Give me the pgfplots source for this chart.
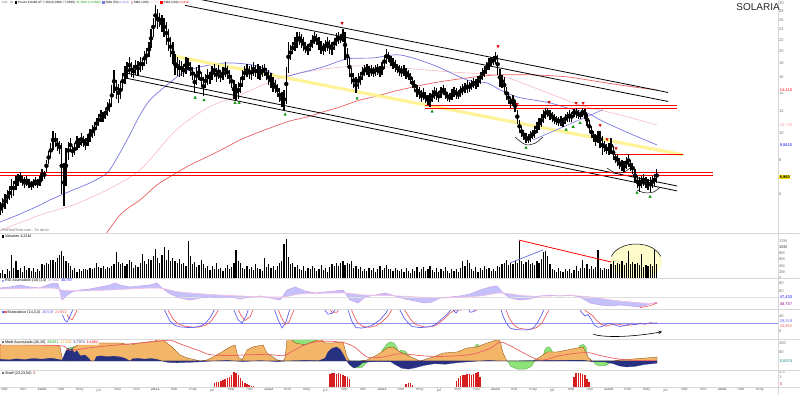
\documentclass[border=0pt]{standalone}
\usepackage{fontspec}
\setmainfont{Liberation Sans}
\usepackage{pgfplots}
\pgfplotsset{compat=1.18}
\usepackage{pgfplotstable}
\usepgfplotslibrary{fillbetween}
\definecolor{smablue}{RGB}{120,120,225}
\definecolor{smapink}{RGB}{245,185,195}
\definecolor{smared}{RGB}{235,95,95}
\definecolor{chanyel}{RGB}{255,242,140}
\definecolor{ora}{RGB}{243,182,105}
\definecolor{grn}{RGB}{140,228,120}
\definecolor{navy}{RGB}{40,48,130}
\definecolor{rsiv}{RGB}{205,165,240}
\definecolor{rsisig}{RGB}{245,190,225}
\definecolor{rsifill}{RGB}{165,160,248}
\definecolor{stblue}{RGB}{95,95,240}
\definecolor{stred}{RGB}{240,95,95}
\definecolor{histred}{RGB}{215,30,30}
\definecolor{lbl}{RGB}{110,110,110}
\definecolor{sepc}{RGB}{215,215,215}
\newcommand\tkf{\fontsize{4}{4.5}\selectfont}
\newcommand\lgdf{\fontsize{3.7}{4.2}\selectfont}
\newcommand\topf{\fontsize{3.1}{3.6}\selectfont}
\newcommand\sqq[1]{\textcolor{#1}{\rule{2.4pt}{2.4pt}}}

\pgfplotstableread{
w h l v
-19 5.6 5.0 1.5
-18 5.8 5.1 2.6
-17 6.0 5.3 1.4
-16 6.2 5.5 3.0
-15 6.4 5.7 2.2
-14 6.8 5.8 7.5
-13 6.7 5.9 3.2
-12 7.0 6.2 5.5
-11 7.1 6.4 2.6
-10 7.2 6.6 3.4
-9 7.0 6.4 2.0
-8 6.9 6.3 4.0
-7 7.0 6.4 2.5
-6 6.8 6.3 3.1
-5 6.7 6.2 2.2
-4 6.8 6.3 3.3
-3 6.9 6.4 2.0
-2 6.8 6.3 3.0
-1 7.0 6.4 2.4
0 7.4 6.7 4.5
1 7.3 6.8 4.3
2 8.0 7.2 5.0
3 8.6 7.7 4.6
4 9.2 8.1 5.8
5 10.2 8.7 6.0
6 10.0 8.9 5.2
7 9.6 8.6 6.6
8 9.4 8.4 7.4
9 9.2 6.0 8.9
10 7.8 5.4 7.0
11 8.8 6.4 5.6
12 9.3 8.0 4.8
13 9.6 8.5 3.8
14 9.0 8.2 2.6
15 9.2 8.3 3.4
16 9.8 8.7 1.8
17 9.6 8.8 3.0
18 10.0 9.0 2.2
19 9.8 8.9 2.8
20 9.6 8.7 3.0
21 9.9 9.0 2.7
22 10.4 9.3 3.2
23 10.7 9.6 2.9
24 11.0 9.8 3.1
25 11.4 10.3 5.0
26 11.8 10.6 3.5
27 12.2 11.0 3.2
28 12.0 11.0 3.8
29 12.4 11.3 2.9
30 13.0 11.6 3.6
31 13.3 12.0 3.4
32 15.0 12.5 4.0
33 17.0 14.0 4.4
34 15.7 13.4 8.3
35 15.2 12.9 5.2
36 15.5 13.3 4.4
37 16.6 14.4 5.0
38 17.6 15.2 3.8
39 18.2 15.8 4.6
40 19.0 16.5 6.0
41 18.2 16.0 5.2
42 17.8 15.9 3.4
43 18.6 16.4 4.2
44 18.4 16.2 3.6
45 19.0 16.8 4.8
46 18.8 17.0 7.8
47 20.0 17.6 5.4
48 20.5 18.0 4.6
49 21.5 19.0 6.2
50 24.0 20.5 5.8
51 26.5 22.5 7.2
52 29.5 24.5 9.5
53 28.5 24.0 6.6
54 27.5 24.5 5.0
55 27.0 23.5 7.4
56 26.5 22.5 10.0
57 25.5 21.0 6.0
58 24.0 20.0 9.2
59 22.5 19.0 5.4
60 21.5 18.0 6.4
61 19.5 16.3 5.6
62 19.0 16.2 4.8
63 18.6 16.0 6.2
64 18.4 16.2 4.4
65 18.0 16.0 5.0
66 19.0 16.5 4.0
67 18.8 17.0 12.0
68 18.2 16.2 7.2
69 17.5 15.6 4.6
70 16.8 14.0 5.2
71 17.5 15.0 3.6
72 17.8 15.6 4.2
73 16.8 14.8 6.0
74 16.0 13.7 4.4
75 16.5 14.6 3.2
76 17.2 15.0 4.0
77 16.8 15.2 2.6
78 17.6 15.6 3.8
79 18.0 16.0 3.0
80 17.4 15.4 4.8
81 17.8 15.8 2.8
82 17.0 15.4 3.4
83 17.5 15.6 2.4
84 18.2 16.0 3.2
85 17.6 15.8 4.2
86 17.0 15.2 2.8
87 16.4 14.6 3.6
88 15.6 13.4 5.0
89 15.2 13.2 9.0
90 15.4 13.4 5.4
91 16.0 14.0 4.8
92 17.0 14.8 3.2
93 17.6 15.6 2.8
94 18.0 16.0 4.0
95 17.6 15.8 3.0
96 17.8 15.6 3.6
97 18.2 16.2 2.6
98 17.8 16.0 4.4
99 18.0 15.8 3.4
100 17.6 15.6 3.0
101 17.8 16.0 2.4
102 18.0 16.2 6.6
103 17.4 15.6 3.6
104 17.0 15.0 4.6
105 16.6 14.6 3.2
106 16.0 14.2 4.0
107 15.6 14.0 2.6
108 15.2 13.6 3.8
109 14.6 13.0 4.8
110 14.2 12.5 5.4
111 14.4 12.2 11.0
112 17.5 12.8 12.7
113 21.5 16.6 6.7
114 21.0 18.5 4.6
115 21.5 19.5 5.0
116 22.5 20.0 3.6
117 23.5 20.5 4.2
118 23.5 21.0 3.0
119 23.0 20.6 2.6
120 22.5 20.0 3.8
121 21.5 19.6 2.4
122 21.2 19.3 3.4
123 22.0 20.0 2.8
124 22.8 20.5 4.0
125 23.5 21.2 3.2
126 23.0 21.0 2.2
127 22.5 20.2 3.0
128 21.8 19.5 4.2
129 21.4 19.3 2.6
130 22.0 19.8 3.2
131 22.6 20.0 2.0
132 22.0 19.5 3.6
133 21.6 19.4 4.4
134 22.4 20.2 3.8
135 23.2 20.8 5.0
136 23.5 21.2 4.0
137 23.0 21.4 4.8
138 24.0 21.6 5.4
139 23.5 18.6 4.2
140 20.5 17.8 5.0
141 19.0 16.0 4.6
142 17.4 15.2 5.6
143 16.6 14.6 3.4
144 16.0 14.0 4.0
145 16.6 14.5 2.8
146 16.8 15.0 3.6
147 17.5 15.6 2.4
148 17.8 16.2 3.0
149 18.0 16.4 2.2
150 17.6 16.0 3.4
151 17.8 16.2 2.6
152 17.5 16.0 3.2
153 17.8 16.2 2.0
154 18.0 16.4 2.8
155 17.6 16.0 3.8
156 18.2 16.4 2.6
157 19.4 17.2 3.2
158 20.3 18.0 4.2
159 19.8 18.2 2.8
160 19.2 17.6 3.0
161 18.8 17.2 2.4
162 18.5 16.8 3.4
163 18.0 16.6 2.6
164 17.8 16.2 2.2
165 17.6 16.0 2.8
166 17.8 16.2 1.8
167 17.4 15.8 3.2
168 17.0 15.6 2.4
169 16.6 15.2 1.6
170 16.0 14.6 3.0
171 15.6 14.2 2.4
172 15.0 13.6 3.6
173 14.8 13.4 2.0
174 14.4 13.0 2.8
175 14.6 13.2 3.6
176 14.2 12.9 2.2
177 13.8 12.7 3.0
178 14.0 12.5 4.0
179 14.4 13.0 2.6
180 14.8 13.4 2.0
181 14.6 13.2 3.2
182 14.3 13.0 1.8
183 14.8 13.5 2.8
184 15.0 13.8 2.2
185 14.6 13.4 3.6
186 14.2 13.1 2.4
187 14.0 13.0 1.6
188 14.5 13.2 3.0
189 14.8 13.6 2.2
190 14.6 13.4 2.8
191 14.4 13.3 2.0
192 14.9 13.6 3.4
193 15.1 13.8 5.4
194 15.3 14.0 4.0
195 15.6 14.0 5.8
196 15.4 14.2 5.0
197 15.6 14.4 3.0
198 15.9 14.6 2.4
199 15.8 14.5 3.6
200 16.2 14.8 2.0
201 16.8 15.2 3.2
202 17.4 15.6 2.6
203 17.6 16.0 3.8
204 18.2 16.5 2.8
205 18.8 17.0 3.4
206 19.0 17.6 2.4
207 19.2 17.8 3.0
208 19.8 18.0 2.2
209 19.4 16.4 4.0
210 17.2 14.8 3.6
211 16.4 14.6 4.4
212 16.0 14.0 5.0
213 14.8 13.2 5.8
214 14.2 12.8 4.2
215 13.6 12.4 4.8
216 13.8 12.6 4.4
217 13.2 12.0 5.4
218 12.2 10.8 5.0
219 11.2 10.0 12.0
220 10.6 9.7 5.6
221 10.3 9.45 4.6
222 10.0 9.2 5.2
223 9.9 9.2 6.0
224 10.2 9.3 4.4
225 10.3 9.5 5.0
226 10.6 9.6 4.2
227 11.0 10.0 5.4
228 11.4 10.3 4.8
229 11.8 10.5 6.2
230 12.2 10.9 8.3
231 12.4 11.3 8.9
232 12.4 11.5 7.0
233 12.2 11.2 4.4
234 12.0 11.0 3.0
235 11.8 10.8 2.6
236 11.6 10.7 2.0
237 11.5 10.6 3.2
238 11.6 10.6 2.4
239 11.4 10.5 1.8
240 11.8 10.8 2.8
241 12.0 11.0 2.2
242 12.2 11.0 3.0
243 12.0 11.0 1.6
244 12.3 11.5 2.6
245 12.4 11.4 3.8
246 12.2 11.3 2.4
247 12.0 11.3 3.2
248 12.4 11.5 5.8
249 12.3 11.3 3.4
250 11.8 10.6 4.6
251 11.2 10.0 3.0
252 10.6 9.6 4.0
253 10.2 9.3 2.8
254 9.9 9.0 3.6
255 10.2 9.2 9.0
256 10.2 8.8 3.2
257 9.8 8.3 2.6
258 9.4 8.5 3.4
259 9.1 8.4 2.8
260 9.2 8.3 3.0
261 9.6 8.4 4.6
262 9.0 8.0 5.4
263 8.4 7.8 4.2
264 8.4 7.6 5.0
265 8.1 7.4 4.4
266 8.0 7.3 5.6
267 7.9 7.2 4.2
268 8.2 7.4 4.8
269 8.4 7.5 8.9
270 8.0 7.3 4.6
271 7.8 7.1 5.2
272 7.4 6.6 4.4
273 7.0 6.3 5.0
274 6.9 6.1 4.2
275 7.0 6.3 7.8
276 7.1 6.4 3.6
277 6.9 6.3 4.2
278 6.8 6.2 3.8
279 6.9 6.1 4.4
280 7.0 6.3 4.0
281 7.1 6.4 9.0
282 7.4 6.6 4.5
}\weekly

\pgfplotstableread{
w s
79 0.4
80 0.5
81 0.5
82 0.6
83 0.7
84 0.8
85 0.9
86 1.0
87 1.2
88 1.5
89 1.4
90 1.2
91 0.9
92 0.6
93 0.4
94 0.3
95 0.2
96 0.15
97 0.1
132 1.3
133 1.4
134 1.4
135 1.3
136 1.4
137 1.3
138 1.2
139 1.1
140 1.0
141 0.8
167 0.3
168 0.4
169 0.4
170 0.2
190 0.6
191 0.9
192 1.1
193 1.2
194 1.2
195 1.3
196 1.3
197 1.2
198 1.3
199 1.4
200 1.5
201 1.0
244 1.0
245 1.4
246 1.4
247 1.4
248 1.3
249 1.2
250 0.8
251 0.5
}\histo

\pgfplotsset{
  panel/.style={scale only axis, width=778pt, xmin=-19.3, xmax=337.6,
    anchor=north west, axis line style={draw=none}, tick style={draw=none},
    xtick=\empty, yticklabel pos=right,
    yticklabel style={font=\tkf, text=lbl, inner sep=1pt},
    /pgf/number format/assume math mode=true},
}

\begin{document}
\begin{tikzpicture}[x=1pt,y=1pt]
%================ PRICE =================
\begin{axis}[panel, at={(0pt,0pt)}, height=233pt, ymode=log, ymin=4.312, ymax=30.75,
  ytick={6,8,10,12,14,16,18,20,22,24,26,28,30},
  yticklabels={6,8,10,12,14,16,18,20,22,24,26,28,30}]
\addplot[smared, line width=0.7pt, smooth] coordinates {(24.31,3.74) (35.78,5.02) (44.95,5.70) (52.75,6.47) (60.09,7.04) (67.89,7.65) (75.69,8.19) (83.94,8.84) (90.83,9.45) (98.62,10.03) (105.96,10.55) (113.76,11.09) (121.56,11.47) (128.90,11.97) (136.70,12.48) (144.50,13.13) (151.83,13.58) (164.22,14.41) (179.36,15.28) (194.95,15.94) (208.72,16.35) (225.23,16.35) (240.83,16.08) (255.96,15.41) (271.10,14.78) (282.11,14.41)};
\addplot[smapink, line width=0.6pt, smooth] coordinates {(-19.27,4.4) (-0.92,5.02) (14.22,5.46) (29.82,6.20) (44.95,7.34) (60.09,10.03) (69.27,11.47) (78.44,12.69) (90.83,13.8) (109.17,15.94) (127.52,17.1) (145.87,17.64) (164.22,17.34) (187.16,16.77) (210.09,16.21) (228.44,14.41) (246.79,12.69) (265.14,11.67) (282.11,10.72)};
\addplot[smablue, line width=0.7pt, smooth] coordinates {(-19.27,4.73) (-10.09,5.06) (-0.92,5.46) (3.67,5.70) (14.22,6.20) (22.02,6.58) (29.82,7.15) (34.40,8.12) (38.99,9.45) (44.95,11.67) (49.54,13.24) (57.34,15.03) (64.68,16.63) (72.48,17.49) (84.86,18.09) (98.62,17.64) (109.17,16.08) (118.35,16.63) (128.90,17.49) (139.91,18.71) (151.83,18.87) (164.22,19.35) (179.36,17.79) (194.95,15.67) (204.13,15.28) (210.09,14.41) (217.89,13.58) (225.23,13.24) (233.03,12.91) (240.83,12.38) (250.0,11.87) (255.96,11.19) (263.76,10.46) (271.10,9.86) (282.11,9.06)};
\addplot[chanyel, line width=3.2pt, opacity=0.9] coordinates {(60.09,19.19) (294.04,8.33)};
\addplot[black, line width=0.8pt] coordinates {(65.6,31.69) (287.16,14.1)};
\addplot[black, line width=0.8pt] coordinates {(65.6,29.38) (287.16,13.07)};
\addplot[black, line width=0.8pt] coordinates {(38.07,16.63) (291.28,6.41)};
\addplot[black, line width=0.8pt] coordinates {(38.07,15.94) (291.28,6.15)};
\addplot[red, line width=0.8pt] coordinates {(-19.3,7.17) (307.8,7.17)};
\addplot[red, line width=0.8pt] coordinates {(-19.3,6.99) (307.8,6.99)};
\addplot[red, line width=0.8pt] coordinates {(175.69,12.66) (291.28,12.66)};
\addplot[red, line width=0.8pt] coordinates {(175.69,12.35) (291.28,12.35)};
\addplot[red, line width=0.8pt] coordinates {(261.93,8.38) (294.04,8.38)};
\addplot[smablue, line width=0.6pt] coordinates {(225.23,9.45) (257.34,12.2)};
\addplot[only marks, mark=none, error bars/.cd, y dir=both, y explicit, error mark=none,
  error bar style={line width=1.3pt, black}]
  table[x=w, y expr={(\thisrow{h}+\thisrow{l})/2},
        y error plus expr={(\thisrow{h}-\thisrow{l})/2},
        y error minus expr={(\thisrow{h}-\thisrow{l})/2}] {\weekly};
\addplot[black, line width=0.5pt, smooth] coordinates {(216.97,9.69) (219.7,9.29) (222.48,9.06) (226.15,9.19) (229.82,9.69)};
\addplot[black, line width=0.5pt, smooth] coordinates {(259.17,7.46) (261.47,7.25) (263.76,7.15) (266.97,7.21) (269.72,7.46)};
\addplot[black, line width=0.5pt, smooth] coordinates {(272.94,6.20) (275.69,6.07) (277.98,6.05) (280.73,6.10) (283.49,6.35)};
\addplot[only marks, mark=triangle*, mark size=1.4pt, mark options={rotate=180, fill=red, draw=red!80!black}] coordinates {(137.61,25.3) (209.17,20.8) (217.9,12.8) (232.6,13.0) (245.0,12.9) (248.2,12.9) (256.0,10.7) (259.2,9.5) (263.3,8.8)};
\addplot[only marks, mark=triangle*, mark size=1.4pt, mark options={fill=green!70!black, draw=green!50!black}] coordinates {(70.2,13.5) (74.3,13.2) (88.5,12.9) (90.4,12.9) (111.5,11.7) (144.5,13.4) (178.9,12.0) (222.0,8.85) (240.4,10.3) (243.6,10.55) (246.8,10.9) (272.9,6.05) (278.9,5.85)};
\end{axis}

%================ VOLUME =================
\begin{axis}[panel, at={(0pt,-233pt)}, height=45pt, ymin=0, ymax=14.6,
  ytick={0,2,4,6,8,10,12}, yticklabels={0,2M,4M,6M,8M,\textbf{10M},12M}]
\fill[yellow!22, opacity=0.9] (axis cs:272.48,5.2) ellipse [x radius=26pt, y radius=18pt];
\addplot[ycomb, black, line width=1.2pt] table[x=w, y=v] {\weekly};
\addplot[red, line width=0.8pt] coordinates {(218.81,12.3) (261.01,5.2)};
\addplot[smablue, line width=0.8pt] coordinates {(214.68,4.9) (229.82,9.1)};
\draw[black, line width=0.5pt] (axis cs:272.48,5.2) ++(162:26pt and 18pt) arc[start angle=162, end angle=18, x radius=26pt, y radius=18pt];
\end{axis}

%================ RSI =================
\begin{axis}[panel, at={(0pt,-278pt)}, height=31pt, ymin=14, ymax=92,
  ytick={60,80}, yticklabels={60,80}]
\addplot[gray!25, line width=0.4pt] coordinates {(-19.3,44) (337.6,44)};
\addplot[name path=rsi, rsiv, line width=0.6pt] coordinates {(-19.27,66.8) (-14.68,69.4) (-10.09,74.4) (-5.50,69.4) (-0.92,66.8) (1.38,71.9) (3.67,76.9) (5.96,79.4) (7.34,76.9) (9.17,36.6) (11.01,46.7) (13.76,56.8) (17.43,61.8) (22.02,64.3) (26.61,69.4) (31.19,74.4) (33.49,79.4) (35.78,74.4) (40.37,69.4) (44.95,71.9) (49.54,74.4) (52.75,79.4) (55.05,66.8) (58.72,51.7) (63.30,41.7) (67.89,36.6) (72.48,41.7) (77.06,44.2) (81.65,41.7) (86.24,44.2) (90.83,39.2) (95.41,44.2) (100.00,46.7) (104.59,41.7) (109.17,36.6) (112.39,61.8) (116.06,69.4) (120.64,59.3) (125.23,54.3) (129.82,56.8) (134.40,59.3) (138.07,61.8) (141.28,36.6) (144.95,29.1) (148.17,44.2) (152.75,49.2) (157.34,54.3) (161.93,46.7) (166.51,39.2) (171.10,34.1) (175.69,29.1) (178.90,31.6) (182.57,41.7) (187.16,44.2) (191.74,46.7) (196.33,51.7) (200.92,61.8) (205.50,69.4) (208.71,71.9) (211.47,54.3) (214.68,41.7) (219.27,36.6) (223.85,39.2) (228.44,46.7) (233.03,49.2) (237.61,46.7) (242.20,49.2) (246.79,44.2) (251.38,29.1) (255.96,24.1) (260.55,21.6) (265.14,24.1) (269.72,21.6) (274.31,19.0) (278.90,26.6) (282.11,31.6)};
\addplot[name path=sig, rsisig, line width=0.6pt, smooth] coordinates {(-19.27,64.3) (3.67,66.8) (9.17,61.8) (17.43,59.3) (31.19,61.8) (52.75,66.8) (63.30,56.8) (81.65,49.2) (109.17,44.2) (118.35,51.7) (138.07,54.3) (148.17,49.2) (164.22,46.7) (182.57,41.7) (200.92,46.7) (210.09,54.3) (223.85,46.7) (246.79,46.7) (265.14,34.1) (282.11,26.6)};
\addplot[rsifill, fill opacity=0.65] fill between[of=rsi and sig];
\addplot[stred, line width=0.6pt] coordinates {(274.31,17.5) (278.9,22) (282.11,29)};
\end{axis}

%================ STOCHASTIC =================
\begin{axis}[panel, at={(0pt,-309pt)}, height=30pt, ymin=-21.3, ymax=58.7,
  ytick={0,40}, yticklabels={0,40}]
\addplot[stblue!70, line width=0.6pt] coordinates {(-19.3,20) (337.6,20)};
\addplot[stred, line width=0.7pt] coordinates {(-19.27,85) (5.96,90) (8.8,75) (10.6,52) (12.4,34) (13.8,30) (15.2,45) (17.5,75) (19.7,90) (54.13,90) (56.5,72) (58.3,50) (60.1,32) (62.4,19) (65.1,13) (69.3,10) (72.5,11) (75.2,16) (77.5,26) (79.8,45) (82.1,70) (84.4,88) (87.6,88) (89.4,66) (91.2,42) (93.1,28) (95.4,38) (97.2,62) (99.1,85) (105.9,88) (107.8,66) (109.6,38) (111.5,18) (113.3,24) (115.1,50) (117.4,80) (119.2,90) (128.9,88) (131.2,65) (133.0,50) (135.3,50) (137.1,68) (139.4,82) (140.8,72) (142.7,46) (144.5,24) (147.2,12) (150.4,10) (153.2,14) (155.9,24) (158.7,40) (161.0,62) (162.8,78) (165.1,66) (167.4,46) (169.3,29) (171.6,17) (175.2,11) (178.9,11) (181.6,19) (184.4,32) (187.2,48) (189.5,56) (192.2,56) (195.0,64) (197.2,58) (199.1,55) (201.4,64) (203.2,82) (210.6,85) (212.4,62) (214.2,36) (216.1,18) (218.4,8) (221.6,5) (224.8,5) (227.1,10) (229.4,22) (231.2,42) (233.5,66) (235.4,85) (245.4,88) (247.2,72) (249.1,55) (251.4,46) (252.7,40) (254.1,30) (256.4,18) (258.7,13) (261.0,17) (263.8,19) (266.1,16) (268.4,15) (271.1,17) (273.4,19) (275.7,19) (278.0,20) (280.3,21) (282.11,21)};
\addplot[stblue, line width=0.7pt] coordinates {(-19.27,85) (-10.09,90) (3.67,92) (5.96,90) (7.34,70) (9.17,45) (10.55,28) (11.47,24) (12.84,40) (14.68,65) (16.51,90) (31.19,92) (54.13,90) (55.50,65) (57.34,42) (58.72,26) (61.01,15) (63.30,11) (67.89,9) (70.18,10) (72.48,13) (74.77,20) (77.06,35) (79.36,60) (81.65,85) (87.16,85) (88.07,55) (89.91,30) (91.74,21) (93.58,40) (95.41,70) (97.25,90) (105.50,90) (106.42,60) (108.26,30) (110.09,8) (111.93,25) (113.76,60) (115.60,90) (128.44,90) (129.82,55) (131.19,45) (133.03,47) (134.86,60) (136.70,85) (138.99,85) (140.37,55) (142.20,25) (144.04,9) (146.79,8) (149.54,11) (152.29,18) (155.05,30) (157.80,48) (159.63,70) (161.47,85) (162.84,80) (164.22,55) (166.06,35) (167.89,22) (169.72,12) (173.39,9) (177.06,11) (179.82,15) (182.57,28) (185.32,42) (188.07,60) (189.91,48) (191.74,62) (194.50,70) (196.33,50) (198.17,52) (200.00,70) (201.83,90) (209.17,90) (210.09,65) (211.47,40) (212.84,22) (214.68,8) (216.97,4) (219.27,3) (221.56,3) (223.85,4) (225.69,10) (227.52,25) (229.36,45) (231.19,70) (233.03,90) (244.50,90) (245.87,65) (247.71,48) (249.08,40) (250.46,44) (251.83,32) (253.21,16) (255.05,10) (256.88,12) (258.72,18) (260.55,21) (262.84,16) (265.14,12) (267.43,15) (269.72,19) (272.02,17) (274.31,21) (276.61,18) (278.90,22) (281.19,20) (282.11,22)};
\draw[black, line width=0.6pt, -stealth] (axis cs:252.75,-8) .. controls (axis cs:257,-18) and (axis cs:270,-17) .. (axis cs:284.4,-2);
\end{axis}

%================ CUMULATIVE AREA PANEL =================
\begin{axis}[panel, at={(0pt,-339pt)}, height=31pt, ymin=-50, ymax=122,
  ytick={50,100}, yticklabels={50,100}]
\addplot[fill=grn, draw=grn!70!black, line width=0.3pt] coordinates {(9.2,0) (10.55,45) (11.47,68) (12.84,74) (14.68,80) (16,60) (16.5,0)} \closedcycle;
\addplot[fill=grn, draw=grn!70!black, line width=0.3pt] coordinates {(112.39,0) (112.39,117) (113.76,130) (127.52,130) (129,100) (129,0)} \closedcycle;
\addplot[fill=grn, draw=grn!70!black, line width=0.3pt] coordinates {(155.05,0) (156,60) (158.26,95) (159.6,106) (161.47,100) (163,70) (164,0)} \closedcycle;
\addplot[fill=grn, draw=grn!70!black, line width=0.3pt] coordinates {(164.22,0) (164.22,61) (166.5,55) (168,35) (168.5,0)} \closedcycle;
\addplot[fill=grn, draw=grn!70!black, line width=0.3pt] coordinates {(198.17,0) (198.6,85) (199.54,92) (200.5,88) (201,0)} \closedcycle;
\addplot[fill=grn, draw=grn!70!black, line width=0.3pt] coordinates {(229.4,0) (230.5,60) (231.65,78) (233,76) (234,55) (235,0)} \closedcycle;
\addplot[fill=grn, draw=grn!70!black, line width=0.3pt] coordinates {(245.4,0) (246.5,85) (248.17,92) (249.5,80) (250.46,0)} \closedcycle;
\addplot[fill=grn, draw=grn!70!black, line width=0.3pt] coordinates {(140.8,0) (142.2,-25) (144,-39) (146.8,-35) (148.5,-15) (149.5,0)} \closedcycle;
\addplot[fill=grn, draw=grn!70!black, line width=0.3pt] coordinates {(213.5,0) (215,-30) (218,-45) (222,-45) (224.5,-30) (226,0)} \closedcycle;
\addplot[fill=grn, draw=grn!70!black, line width=0.3pt] coordinates {(252.7,0) (254,-20) (256,-28) (258.7,-25) (260.5,-10) (261.5,0)} \closedcycle;
\addplot[fill=ora, draw=orange!50!black, line width=0.3pt] coordinates {(-19.27,94) (-10.09,100) (-0.92,94) (5.96,89) (8.26,78) (9.17,17) (10.09,6) (11.01,28) (12.84,50) (14.68,78) (17.43,94) (22.02,94) (26.61,100) (35.78,100) (40.37,89) (44.95,100) (51.83,111) (54.13,125) (57.34,100) (60.09,72) (63.30,33) (66.51,17) (72.48,0) (75.69,6) (78.44,22) (81.65,44) (86.24,78) (88.53,89) (89.91,22) (91.74,6) (94.04,61) (96.79,78) (101.38,89) (103.21,44) (107.80,6) (110.55,0) (111.47,17) (112.39,117) (113.76,125) (116.06,100) (120.64,89) (125.23,111) (127.52,125) (129.82,100) (133.49,100) (138.07,106) (139.91,22) (141.28,0) (145.87,0) (149.08,6) (153.67,33) (158.26,72) (161.01,78) (164.22,50) (167.43,33) (170.18,17) (173.39,0) (179.36,22) (183.95,44) (190.37,50) (194.95,72) (199.54,78) (204.13,100) (208.71,117) (210.09,111) (211.47,44) (213.30,0) (225.23,0) (228.44,22) (231.65,50) (236.24,50) (240.83,61) (245.41,72) (248.17,78) (250.46,22) (252.29,0) (261.93,0) (265.14,6) (271.10,11) (277.52,17) (282.11,22)} \closedcycle;
\addplot[fill=navy, draw=navy, line width=0.2pt] coordinates {(-19.27,10) (-15,6) (-12,12) (-8,8) (-4,14) (0,10) (4,16) (7,10) (9.17,5) (10.1,30) (11.0,55) (12.0,72) (12.8,60) (13.8,70) (14.7,45) (16.0,58) (17.4,30) (19.7,33) (21,20) (22.5,0) (24,0) (25,25) (27,28) (30,24) (33,27) (36,22) (38,15) (40.4,0) (41.5,12) (44,15) (47,10) (50,14) (53,8) (55,0) (58,-8) (62,-10) (66,-8) (72,-5) (78,0) (85,3) (92,-3) (100,2) (108,-3) (112,0) (120,3) (127,2) (129.8,15) (131.2,50) (133,70) (135,78) (136.7,65) (138,40) (139.5,5) (141,-20) (143,-39) (145,-30) (147,-10) (150,-5) (155,-3) (160,-5) (162,-20) (165,-40) (168,-45) (171,-38) (175,-25) (180,-15) (185,-18) (190,-10) (195,-5) (200,0) (205,3) (210,0) (215,0) (225,2) (230,3) (240,4) (248,5) (252,-3) (258,-5) (262,-15) (265,-28) (268,-33) (272,-30) (276,-20) (280,-15) (282.11,-12)} \closedcycle;
\addplot[smared, line width=0.7pt, smooth] coordinates {(-19.27,90) (8.26,85) (12.84,60) (26.61,80) (54.13,110) (58.72,115) (63.3,95) (67.9,75) (72.5,55) (77.1,35) (86.2,30) (95.4,35) (104.6,35) (111,30) (115.6,60) (122.9,100) (131.2,110) (139,100) (143.6,75) (149.1,22) (155,20) (164.2,40) (173.4,30) (182.6,25) (196.3,35) (205.5,70) (210.1,105) (214.7,85) (219.3,55) (228.4,5) (237.6,30) (246.8,45) (251.4,45) (256,30) (265.1,10) (274.3,2) (282.1,5)};
\end{axis}

%================ HISTOGRAM PANEL + DATE AXIS =================
\begin{axis}[panel, at={(0pt,-370pt)}, height=17pt, ymin=0, ymax=1.7,
  ytick={1,1.5}, yticklabels={1,{1,5}},
  xtick={-17.3333,-8.6667,...,330},
  xticklabels={sep,nov,\textbf{2020},mar,may,jul,sep,nov,\textbf{2021},mar,may,jul,sep,nov,\textbf{2022},mar,may,jul,sep,nov,\textbf{2023},mar,may,jul,sep,nov,\textbf{2024},mar,may,jul,sep,nov,\textbf{2025},mar,may,jul,sep,nov,\textbf{2026},mar,may},
  xticklabel style={font=\tkf, text=lbl, inner sep=1pt}]
\addplot[ycomb, draw=histred, line width=1.5pt] table[x=w, y=s] {\histo};
\end{axis}

%================ SEPARATORS, LABELS, TAGS =================
\foreach \yy in {233,278,309,339,370,387} {\draw[sepc, line width=0.6pt] (0pt,-\yy pt) -- (800pt,-\yy pt);}
\draw[sepc, line width=0.6pt] (778pt,0pt) -- (778pt,-395pt);

\node[anchor=east, inner sep=0pt, font=\fontsize{10}{10}\selectfont, text=black!85] at (780pt,-7pt) {SOLARIA};

\node[anchor=west, inner sep=0.5pt, font=\topf, fill=white, fill opacity=0.85, text opacity=1] at (1pt,-3pt)
 {\textcolor{lbl}{SLR - W}\enspace\sqq{black} Precio 6,8490 AT 7,160 (6,8490 / 7,0500) \textcolor{green!55!black}{+0,1510 (+2,20\%)}\enspace \sqq{smablue} SMA (50) \textcolor{smablue}{9,0610}\enspace \sqq{smapink} SMA (100) \textcolor{smapink}{10,720}\enspace \sqq{red} SMA (200) \textcolor{red}{14,410}};
\node[anchor=west, inner sep=0.5pt, font=\lgdf, text=lbl] at (1pt,-230pt) {ProRealTime.com - Tic de tic};
\node[anchor=west, inner sep=0.5pt, font=\lgdf, fill=white, fill opacity=0.85, text opacity=1] at (1pt,-236.5pt) {\sqq{black} Volumen 4,21M};
\node[anchor=west, inner sep=0.5pt, font=\lgdf, fill=white, fill opacity=0.85, text opacity=1] at (1pt,-281pt) {\sqq{rsifill} RSI Acumulado (14) (14)\enspace \textcolor{rsiv!80!black}{47,433}\enspace\textcolor{blue}{38,757}};
\node[anchor=west, inner sep=0.5pt, font=\lgdf, fill=white, fill opacity=0.85, text opacity=1] at (1pt,-312.5pt) {\sqq{stblue}\sqq{stred} Estocástico (14,3,3)\enspace \textcolor{stblue}{28,519}\enspace\textcolor{stred}{24,852}};
\node[anchor=west, inner sep=0.5pt, font=\lgdf, fill=white, fill opacity=0.85, text opacity=1] at (1pt,-342.5pt) {\sqq{lbl} Medi Acumulada (40,15)\enspace \textcolor{green!60!black}{29,621}\enspace \textcolor{orange}{17,152}\enspace \textcolor{navy}{6,7974}\enspace \textcolor{red}{14,862}};
\node[anchor=west, inner sep=0.5pt, font=\lgdf, fill=white, fill opacity=0.85, text opacity=1] at (1pt,-373.5pt) {\sqq{lbl} Shaff (23,23,50)\enspace \textcolor{histred}{0}};

\node[anchor=west, inner sep=0.6pt, font=\tkf, fill=yellow!90!orange, text=black] at (779pt,-177pt) {\textbf{6,960}};
\node[anchor=west, inner sep=0.6pt, font=\tkf, fill=white, text=red] at (779pt,-90pt) {14,410};
\node[anchor=west, inner sep=0.6pt, font=\tkf, fill=white, text=smapink!80!red] at (779pt,-125pt) {10,720};
\node[anchor=west, inner sep=0.6pt, font=\tkf, fill=white, text=blue] at (779pt,-145pt) {9,0610};
\node[anchor=west, inner sep=0.6pt, font=\tkf, fill=white, text=blue] at (779pt,-297pt) {47,433};
\node[anchor=west, inner sep=0.6pt, font=\tkf, fill=white, text=violet] at (779pt,-304pt) {38,757};
\node[anchor=west, inner sep=0.6pt, font=\tkf, fill=white, text=stblue] at (779pt,-321pt) {28,519};
\node[anchor=west, inner sep=0.6pt, font=\tkf, fill=white, text=stred] at (779pt,-326.5pt) {24,852};
\node[anchor=west, inner sep=0.6pt, font=\tkf, fill=white, text=teal] at (779pt,-361pt) {0,0074};
\node[anchor=west, inner sep=0.6pt, font=\tkf, fill=white, text=histred] at (779pt,-384pt) {0};

\pgfresetboundingbox
\useasboundingbox (0pt,0pt) rectangle (800pt,-395pt);
\end{tikzpicture}
\end{document}
